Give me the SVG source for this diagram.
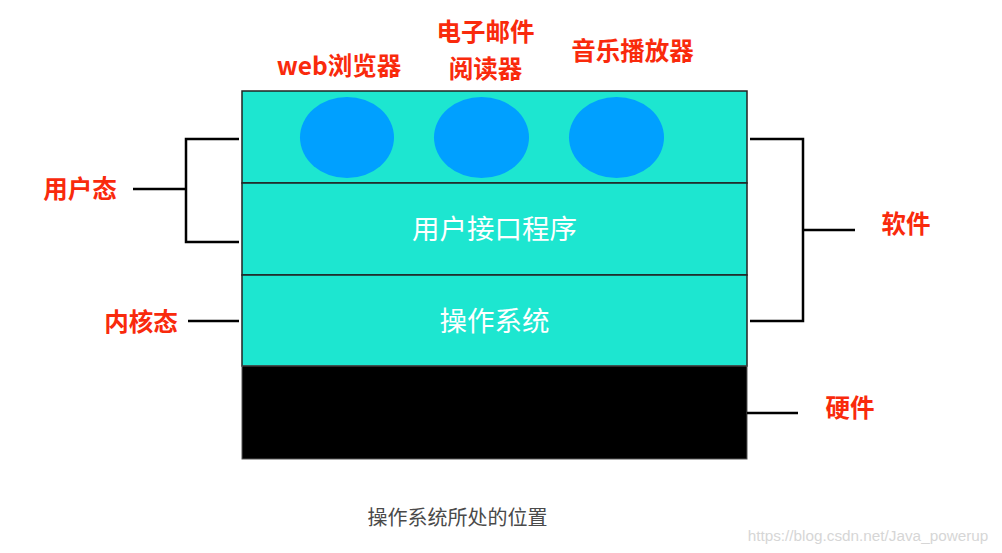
<svg xmlns="http://www.w3.org/2000/svg" width="1002" height="553" viewBox="0 0 1002 553">
<style>
.lbl{font-family:"Noto Sans CJK SC","Noto Sans",sans-serif;font-size:24.5px;font-weight:bold;fill:#F92A0C;text-anchor:middle}
.layer{fill:#1DE6D0;stroke:#222;stroke-width:1.5}
.lt{font-family:"Noto Sans CJK SC","Noto Sans",sans-serif;font-size:27.5px;fill:#fff;text-anchor:middle}
.app{fill:#00A0FF}
.br{stroke:#000;stroke-width:2.5;fill:none}
</style>
<rect width="1002" height="553" fill="#fff"/>
<g id="apps-layer">
<rect class="layer" x="242" y="91" width="505" height="92"/>
<ellipse id="browser" class="app" cx="347" cy="137.5" rx="47" ry="40.5"/>
<ellipse id="email" class="app" cx="481.5" cy="137.5" rx="47.5" ry="40.5"/>
<ellipse id="music" class="app" cx="616.5" cy="137.5" rx="47.5" ry="40.5"/>
</g>
<g id="ui-layer">
<rect class="layer" x="242" y="183" width="505" height="92"/>
<text class="lt" x="494.5" y="239">用户接口程序</text>
</g>
<g id="os-layer">
<rect class="layer" x="242" y="275" width="505" height="91"/>
<text class="lt" x="494.5" y="331">操作系统</text>
</g>
<g id="hw-layer">
<rect x="242" y="366" width="505" height="93" fill="#000" stroke="#555" stroke-width="1"/>
</g>
<g id="connectors">
<path class="br" d="M239,139 H186 V242 H239 M186,189 H133"/>
<path class="br" d="M188,321 H239"/>
<path class="br" d="M750,139 H803 V321 H750 M803,230 H855"/>
<path class="br" d="M747,413 H798"/>
</g>
<g id="labels">
<text class="lbl" x="339" y="75">web浏览器</text>
<text class="lbl" x="485.5" y="41">电子邮件</text>
<text class="lbl" x="485.5" y="78">阅读器</text>
<text class="lbl" x="632.5" y="60">音乐播放器</text>
<text class="lbl" x="80" y="198">用户态</text>
<text class="lbl" x="141" y="331">内核态</text>
<text class="lbl" x="906" y="233">软件</text>
<text class="lbl" x="850" y="417">硬件</text>
</g>
<text x="457.5" y="525" font-family="Noto Sans CJK SC, sans-serif" font-size="20" fill="#4a4a4a" text-anchor="middle">操作系统所处的位置</text>
<text x="868" y="541" font-family="Liberation Sans, Arial, sans-serif" font-size="15.3" fill="#d6d6d6" text-anchor="middle">https://blog.csdn.net/Java_powerup</text>
</svg>
